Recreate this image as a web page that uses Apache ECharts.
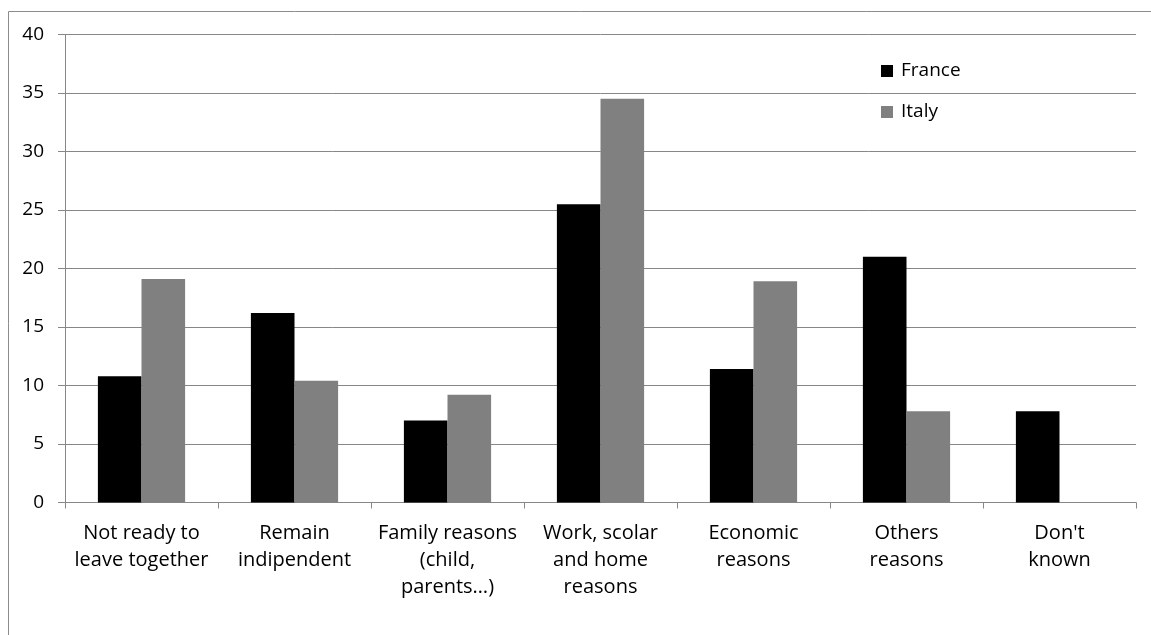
<!DOCTYPE html>
<html>
<head>
<meta charset="utf-8">
<script src="https://cdn.jsdelivr.net/npm/echarts@6/dist/echarts.min.js"></script>
<style>
  html, body { margin: 0; padding: 0; background: #fff; }
  #chart { width: 1151px; height: 635px; }
</style>
</head>
<body>
<div id="chart"></div>
<script>
// Reasons given, by country (percent)
const categories = [
  'Not ready to\nleave together',
  'Remain\nindipendent',
  'Family reasons\n(child,\nparents…)',
  'Work, scolar\nand home\nreasons',
  'Economic\nreasons',
  'Others\nreasons',
  "Don't\nknown"
];
const france = [10.8, 16.2, 7.0, 25.5, 11.4, 21.0, 7.8];
const italy = [19.1, 10.4, 9.2, 34.5, 18.9, 7.8, null];
const seriesNames = ['France', 'Italy'];

const FONT = '"Open Sans", "Liberation Sans", sans-serif';
const GRID_GREY = '#878787';

const chart = echarts.init(document.getElementById('chart'), null, { renderer: 'canvas' });

chart.setOption({
  backgroundColor: '#ffffff',
  animation: false,
  textStyle: { fontFamily: FONT, color: '#000' },
  graphic: [{
    type: 'rect',
    left: 6,
    top: 9,
    shape: { width: 1200, height: 700 },
    style: { fill: 'none', stroke: '#8c8c8c', lineWidth: 1 },
    silent: true,
    z: -1
  }],
  grid: {
    left: 65,
    right: 15,
    top: 34.5,
    bottom: 132.5,
    containLabel: false
  },
  legend: {
    orient: 'vertical',
    left: 881,
    top: 61,
    padding: 0,
    itemWidth: 12,
    itemHeight: 12,
    itemGap: 21,
    icon: 'rect',
    data: seriesNames,
    textStyle: { fontFamily: FONT, fontSize: 19, lineHeight: 20, color: '#000', padding: [0, 0, 0, 3] }
  },
  xAxis: {
    type: 'category',
    data: categories,
    boundaryGap: true,
    axisLine: { show: true, lineStyle: { color: GRID_GREY, width: 1 } },
    axisTick: { show: true, length: 6, alignWithLabel: false, lineStyle: { color: GRID_GREY } },
    axisLabel: {
      interval: 0,
      margin: 17,
      fontFamily: FONT,
      fontSize: 20,
      lineHeight: 27,
      color: '#000',
      align: 'center'
    },
    splitLine: { show: false }
  },
  yAxis: {
    type: 'value',
    min: 0,
    max: 40,
    interval: 5,
    axisLine: { show: true, lineStyle: { color: GRID_GREY, width: 1 } },
    axisTick: { show: true, length: 7, lineStyle: { color: GRID_GREY } },
    axisLabel: { margin: 21, fontFamily: FONT, fontSize: 19, color: '#000' },
    splitLine: { show: true, lineStyle: { color: GRID_GREY, width: 1 } }
  },
  series: [
    {
      name: seriesNames[0],
      type: 'bar',
      data: france,
      barGap: '0%',
      barCategoryGap: '43%',
      itemStyle: { color: '#000000' }
    },
    {
      name: seriesNames[1],
      type: 'bar',
      data: italy,
      barGap: '0%',
      barCategoryGap: '43%',
      itemStyle: { color: '#808080' }
    }
  ]
});
</script>
</body>
</html>
